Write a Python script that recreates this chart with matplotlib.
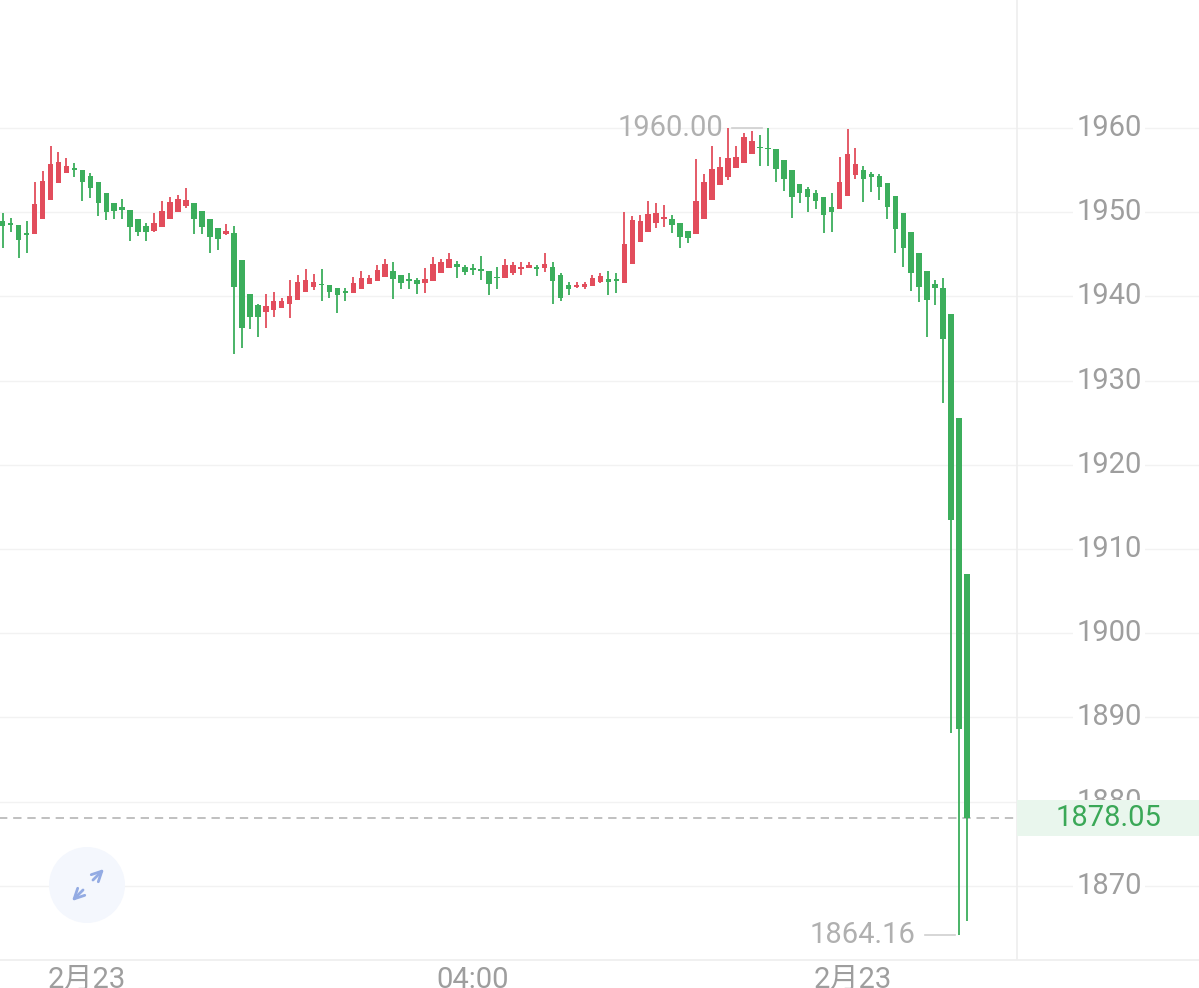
import numpy as np
import matplotlib
matplotlib.use('Agg')
import matplotlib.pyplot as plt
from matplotlib.patches import Rectangle, Circle

# candle data (one candle per slot)
opens = [1948.95, 1948.76, 1948.48, 1947.5, 1947.4, 1949.15, 1951.4, 1953.5, 1954.7, 1955.2,
         1955.0, 1954.3, 1953.55, 1952.3, 1951.05, 1950.65, 1950.3, 1949.2, 1948.35, 1947.8,
         1948.3, 1949.15, 1950.05, 1950.75, 1951.1, 1950.15, 1949.2, 1948.1, 1947.45, 1947.5,
         1944.3, 1940.3, 1939.0, 1938.2, 1938.4, 1938.65, 1939.05, 1939.6, 1940.55, 1941.1,
         1941.45, 1941.3, 1940.95, 1940.7, 1940.45, 1940.9, 1941.45, 1941.8, 1942.35, 1943.05,
         1942.55, 1942.05, 1941.95, 1941.65, 1941.8, 1942.8, 1943.4, 1943.9, 1943.5, 1943.35,
         1943.25, 1943.05, 1942.35, 1942.15, 1942.75, 1943.25, 1943.4, 1943.45, 1943.35, 1943.5,
         1942.6, 1941.3, 1941.1, 1941.1, 1941.2, 1941.75, 1942.05, 1942.05, 1941.6, 1943.9,
         1946.5, 1947.7, 1948.7, 1949.25, 1949.25, 1948.75, 1947.8, 1947.4, 1949.25, 1951.45,
         1953.2, 1954.2, 1955.3, 1955.9, 1956.9, 1957.8, 1957.6, 1957.45, 1956.2, 1955.0,
         1953.35, 1952.7, 1952.25, 1951.75, 1950.65, 1950.35, 1951.9, 1954.4, 1955.0, 1954.55,
         1954.3, 1953.5, 1951.9, 1949.85, 1947.7, 1945.2, 1943.0, 1941.45, 1941.0, 1937.9,
         1925.6, 1907.0]
highs = [1949.9, 1949.35, 1948.48, 1948.9, 1953.55, 1954.9, 1957.9, 1957.2, 1956.4, 1955.9,
         1955.0, 1954.7, 1953.55, 1952.3, 1951.05, 1951.6, 1950.3, 1949.2, 1948.7, 1949.9,
         1951.3, 1951.85, 1952.1, 1952.85, 1951.1, 1950.15, 1949.2, 1948.1, 1948.65, 1948.4,
         1944.3, 1940.3, 1939.1, 1940.3, 1940.55, 1939.85, 1941.95, 1942.55, 1943.3, 1942.65,
         1943.25, 1941.3, 1941.05, 1940.95, 1942.35, 1943.0, 1942.55, 1943.7, 1944.45, 1944.05,
         1942.55, 1942.75, 1942.15, 1943.35, 1944.7, 1944.4, 1945.1, 1944.25, 1943.7, 1943.8,
         1944.85, 1943.05, 1943.5, 1944.5, 1944.05, 1944.05, 1944.1, 1943.7, 1945.1, 1944.1,
         1942.75, 1941.7, 1941.7, 1941.75, 1942.6, 1942.75, 1943.0, 1942.75, 1950.0, 1949.5,
         1949.7, 1951.3, 1951.05, 1950.85, 1949.65, 1948.75, 1947.8, 1956.3, 1954.55, 1957.85,
         1956.5, 1959.95, 1957.85, 1959.45, 1959.65, 1959.15, 1960.0, 1957.45, 1956.2, 1955.0,
         1953.35, 1952.95, 1952.65, 1951.75, 1952.3, 1956.6, 1959.85, 1957.6, 1955.5, 1954.8,
         1954.55, 1953.5, 1951.9, 1949.85, 1947.7, 1945.2, 1943.0, 1941.95, 1942.2, 1937.9,
         1925.6, 1907.0]
lows = [1945.7, 1947.6, 1944.6, 1945.1, 1947.4, 1949.15, 1951.4, 1953.5, 1954.7, 1954.2,
        1951.3, 1951.65, 1949.6, 1949.1, 1949.2, 1949.15, 1946.6, 1947.2, 1946.6, 1947.6,
        1948.3, 1949.15, 1950.05, 1950.5, 1947.4, 1947.4, 1945.1, 1945.5, 1947.3, 1933.1,
        1933.9, 1936.1, 1935.2, 1936.3, 1937.5, 1938.6, 1937.4, 1939.6, 1940.55, 1940.75,
        1939.4, 1939.85, 1938.0, 1939.4, 1940.45, 1940.9, 1941.45, 1941.8, 1942.35, 1939.7,
        1940.9, 1940.9, 1940.25, 1940.35, 1941.8, 1942.8, 1943.4, 1942.15, 1942.6, 1942.6,
        1941.95, 1940.15, 1940.9, 1942.15, 1942.55, 1942.55, 1943.35, 1942.45, 1942.95, 1939.05,
        1939.45, 1940.15, 1940.95, 1940.9, 1941.2, 1941.65, 1940.15, 1940.35, 1941.6, 1943.9,
        1946.5, 1947.7, 1948.1, 1948.3, 1947.5, 1945.8, 1946.3, 1947.4, 1949.25, 1951.45,
        1953.2, 1953.8, 1955.3, 1955.9, 1956.9, 1955.5, 1955.5, 1953.6, 1952.55, 1949.3,
        1951.05, 1950.05, 1950.35, 1947.55, 1947.7, 1950.35, 1951.9, 1953.9, 1951.25, 1952.45,
        1951.5, 1949.2, 1945.2, 1943.5, 1940.6, 1939.3, 1935.2, 1939.0, 1927.3, 1888.1,
        1864.16, 1865.8]
closes = [1948.4, 1948.48, 1946.7, 1947.3, 1951.0, 1953.7, 1955.7, 1956.0, 1955.45, 1955.0,
          1953.55, 1952.9, 1951.05, 1950.0, 1950.15, 1950.25, 1948.2, 1947.7, 1947.7, 1948.7,
          1950.15, 1951.2, 1951.55, 1951.45, 1949.2, 1948.3, 1947.0, 1946.8, 1947.8, 1941.1,
          1936.3, 1937.6, 1937.6, 1938.8, 1939.4, 1939.45, 1940.1, 1941.7, 1941.95, 1941.7,
          1941.3, 1940.55, 1940.15, 1940.45, 1941.55, 1942.15, 1942.15, 1943.15, 1943.8, 1942.05,
          1941.55, 1941.85, 1941.45, 1942.05, 1943.9, 1944.1, 1944.45, 1943.5, 1942.95, 1943.15,
          1943.05, 1941.45, 1942.15, 1943.7, 1943.7, 1943.5, 1943.7, 1943.25, 1943.9, 1941.8,
          1939.85, 1940.9, 1941.35, 1941.45, 1942.2, 1942.45, 1941.75, 1941.85, 1946.2, 1949.1,
          1948.95, 1949.75, 1949.85, 1949.45, 1948.5, 1947.1, 1946.9, 1951.35, 1953.6, 1955.1,
          1955.4, 1956.4, 1956.6, 1958.95, 1958.4, 1957.6, 1957.45, 1955.1, 1953.9, 1951.85,
          1952.25, 1951.75, 1951.35, 1949.65, 1950.05, 1953.6, 1956.9, 1955.7, 1954.0, 1954.15,
          1952.95, 1950.6, 1948.0, 1945.7, 1942.75, 1941.15, 1939.55, 1940.95, 1934.9, 1913.4,
          1888.6, 1878.05]

price_ticks = [1870, 1880, 1890, 1900, 1910, 1920, 1930, 1940, 1950, 1960]
time_labels = ['2月23', '04:00', '2月23']
time_slots = [10.6, 59.0, 106.7]
last_price = 1878.05

UP = '#e24d5c'
DOWN = '#3cae5c'
GRAY = '#9e9e9e'

plt.rcParams['font.family'] = ['Roboto', 'Noto Sans CJK SC', 'DejaVu Sans']

fig = plt.figure(figsize=(11.99, 9.88), dpi=100)
ax = fig.add_axes([0, 28 / 988, 1, 960 / 988])

o = np.array(opens)
h = np.array(highs)
l = np.array(lows)
c = np.array(closes)
x = np.arange(len(o))
colors = np.where(c >= o, UP, DOWN)

# slot layout: 7.97 px per candle, first candle 2.7 px from the left edge
ax.set_xlim(-0.34, 150.1)
ax.set_ylim(1861.19, 1975.2)
divider = 127.3
label_x = 138.8

# grid
for t in price_ticks:
    ax.axhline(t, color='#f2f2f2', lw=1, zorder=0)
ax.axvline(divider, color='#eeeeee', lw=1.2, zorder=1)

# candles
ax.vlines(x, l, h, colors=colors, lw=1.3, zorder=2)
body_lo = np.minimum(o, c)
body_h = np.maximum(np.abs(c - o), 0.16)
ax.bar(x, body_h, bottom=body_lo, width=0.7, color=colors, zorder=3)

# last price line and tag
ax.hlines(last_price, -1, divider, colors='#b5b5b5', lw=1.2,
          linestyles=(0, (5, 3.5)), zorder=1)

# right side price labels
for t in price_ticks:
    ax.text(label_x, t, str(t), ha='center', va='center', fontsize=21,
            color=GRAY, zorder=4,
            bbox=dict(boxstyle='square,pad=0.1', fc='white', ec='none'))
ax.add_patch(Rectangle((divider, last_price - 2.13), 30, 4.27,
                       fc='#e9f6ed', ec='none', zorder=5))
ax.text(label_x, last_price, f'{last_price:.2f}', ha='center', va='center',
        fontsize=21, color='#3aa857', zorder=6)

# high / low markers
hi = int(np.argmax(h))
lo = int(np.argmin(l))
ax.plot([hi - 4.5, hi - 0.7], [h[hi], h[hi]], color='#cfcfcf', lw=1.2, zorder=4)
ax.text(hi - 5.6, h[hi], f'{h[hi]:.2f}', ha='right', va='center', fontsize=21,
        color='#b0b0b0', zorder=4)
ax.plot([lo - 4.3, lo - 0.5], [l[lo], l[lo]], color='#cfcfcf', lw=1.2, zorder=4)
ax.text(lo - 5.5, l[lo], f'{l[lo]:.2f}', ha='right', va='center', fontsize=21,
        color='#b0b0b0', zorder=4)

# time labels under the axis
for s, lab in zip(time_slots, time_labels):
    ax.text(s, -0.021, lab, transform=ax.get_xaxis_transform(), ha='center',
            va='center', fontsize=21, color=GRAY, clip_on=False)

for side in ['top', 'left', 'right']:
    ax.spines[side].set_visible(False)
ax.spines['bottom'].set_color('#eeeeee')
ax.spines['bottom'].set_linewidth(1.2)
ax.set_xticks([])
ax.set_yticks([])

# expand button overlay (pixel coordinates)
ov = fig.add_axes([0, 0, 1, 1], zorder=10)
ov.set_xlim(0, 1199)
ov.set_ylim(988, 0)
ov.axis('off')
ov.patch.set_alpha(0)
ov.add_patch(Circle((87, 885), 38, fc='#f4f7fd', ec='none'))
ov.annotate('', xy=(106, 867), xytext=(91, 882),
            arrowprops=dict(arrowstyle='->', color='#93abe3', lw=2.0, mutation_scale=18))
ov.annotate('', xy=(70, 903), xytext=(85, 888),
            arrowprops=dict(arrowstyle='->', color='#93abe3', lw=2.0, mutation_scale=18))

fig.savefig('out.png', dpi=100, facecolor='white')
